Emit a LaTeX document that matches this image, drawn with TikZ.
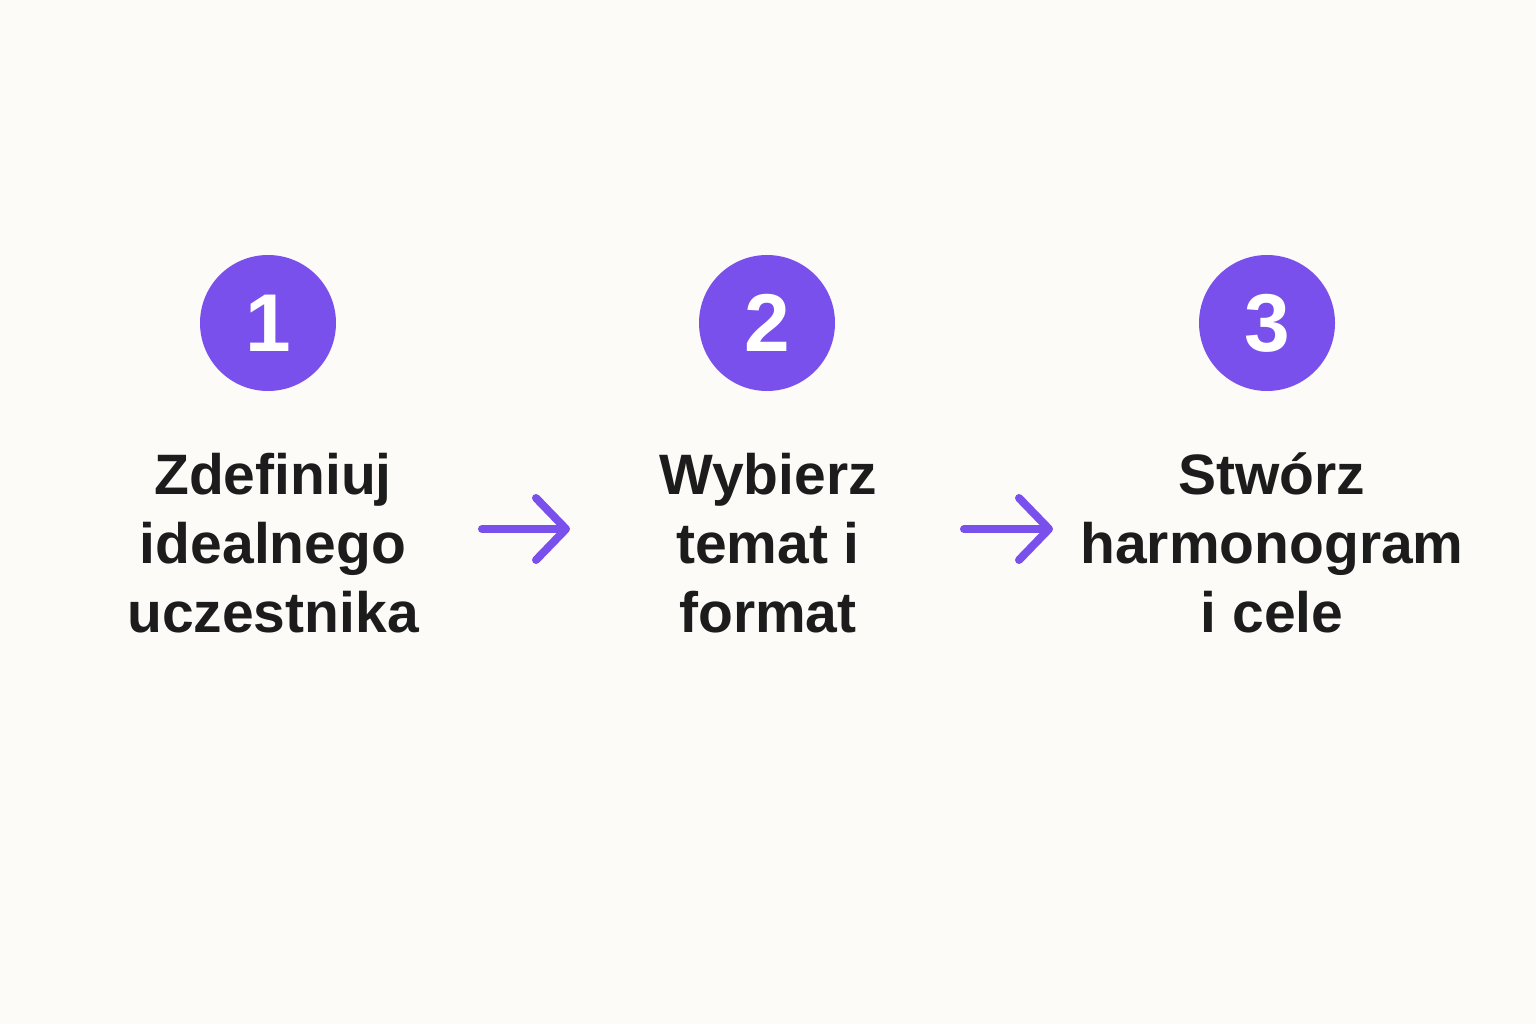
\documentclass[tikz,border=0pt]{standalone}
\usepackage{fontspec}
\setmainfont{Liberation Sans}
\usetikzlibrary{arrows.meta}
\definecolor{bgc}{HTML}{FCFBF8}
\definecolor{purp}{HTML}{7A50EC}
\definecolor{ink}{HTML}{1C1C1C}
\tikzset{
  stepcircle/.style={circle, fill=purp, minimum size=136pt, inner sep=0pt, text=white,
    font=\fontsize{82}{82}\selectfont\bfseries},
  steplabel/.style={align=center, text=ink, inner sep=0pt, anchor=base,
    font=\fontsize{57}{69}\selectfont\bfseries},
  flowarrow/.style={draw=purp, line width=8pt, line cap=round,
    -{Straight Barb[length=30pt,width=62pt,round]}}
}
\begin{document}
\begin{tikzpicture}[x=1pt,y=-1pt]
\fill[bgc] (0,0) rectangle (1536,1024);
\useasboundingbox (0,0) rectangle (1536,1024);
\node[stepcircle] (c1) at (268,323) {1};
\node[stepcircle] (c2) at (767,323) {2};
\node[stepcircle] (c3) at (1267,323) {3};
\node[steplabel] (t1) at (273,632) {Zdefiniuj\\idealnego\\uczestnika};
\node[steplabel] (t2) at (768,632) {Wybierz\\temat i\\format};
\node[steplabel] (t3) at (1272,632) {Stwórz\\harmonogram\\i cele};
\coordinate (a1s) at (482,529);
\coordinate (a1e) at (570,529);
\coordinate (a2s) at (964,529);
\coordinate (a2e) at (1053,529);
\draw[flowarrow] (a1s) -- (a1e);
\draw[flowarrow] (a2s) -- (a2e);
\end{tikzpicture}
\end{document}
